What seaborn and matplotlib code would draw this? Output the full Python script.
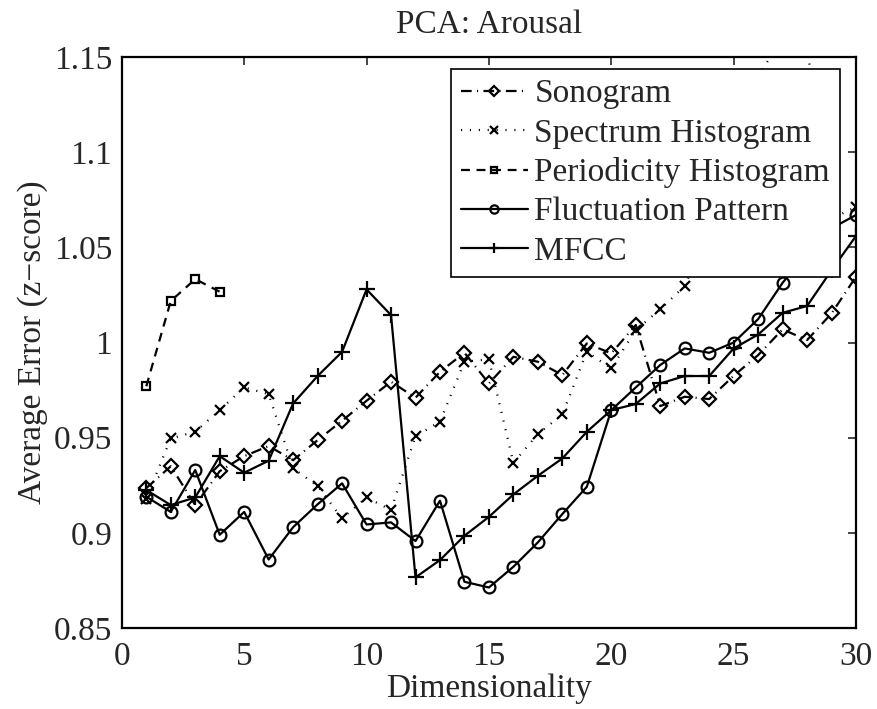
import numpy as np
import pandas as pd
import seaborn as sns
import matplotlib.pyplot as plt
from matplotlib.ticker import FuncFormatter

# values
dims = list(range(1, 31))
sonogram = [0.9235, 0.935, 0.9146, 0.9324, 0.9403, 0.9456, 0.9382, 0.9487, 0.9589, 0.9694,
            0.9794, 0.971, 0.9846, 0.9946, 0.9785, 0.9925, 0.9899, 0.9829, 0.9995, 0.9943,
            1.0092, 0.9666, 0.9715, 0.9703, 0.9825, 0.9934, 1.0069, 1.0013, 1.0153, 1.0346]
spectrum = [0.918, 0.9496, 0.9531, 0.9645, 0.9764, 0.9729, 0.9339, 0.9246, 0.9076, 0.9186,
            0.912, 0.9508, 0.9584, 0.9899, 0.9912, 0.9368, 0.9519, 0.9622, 0.9951, 0.9864,
            1.0066, 1.0174, 1.0297, 1.06, 1.10, 1.14, 1.16, 1.155, 1.065, 1.0713]
periodicity_dims = [1, 2, 3, 4]
periodicity = [0.977, 1.0218, 1.0333, 1.0267]
fluctuation = [0.919, 0.911, 0.933, 0.899, 0.911, 0.886, 0.903, 0.915, 0.926, 0.9044,
               0.9055, 0.8957, 0.9169, 0.8743, 0.8713, 0.8822, 0.895, 0.9099, 0.9242, 0.9645,
               0.9764, 0.9882, 0.9969, 0.9946, 1.0, 1.0123, 1.0314, 1.047, 1.06, 1.067]
mfcc = [0.9225, 0.9146, 0.9186, 0.9403, 0.9316, 0.9379, 0.968, 0.9824, 0.9951, 1.0279,
        1.0144, 0.8766, 0.8857, 0.8985, 0.9084, 0.9202, 0.93, 0.9391, 0.9531, 0.9645,
        0.9677, 0.9785, 0.9824, 0.9824, 0.9969, 1.0042, 1.0156, 1.0192, 1.038, 1.056]

x_ticks = [0, 5, 10, 15, 20, 25, 30]
y_ticks = [0.85, 0.9, 0.95, 1.0, 1.05, 1.1, 1.15]

sns.set_style("white")
plt.rcParams["font.family"] = ["Liberation Serif", "DejaVu Serif"]

fig = plt.figure(figsize=(8.77, 7.09), dpi=100)
ax = fig.add_axes([0.1389, 0.1142, 0.8372, 0.8054])

common = dict(color="k", lw=1.6, markeredgecolor="k", markeredgewidth=1.6, ax=ax)

sns.lineplot(x=dims, y=sonogram, marker="D", markersize=6.8, markerfacecolor="none",
             linestyle=(0, (4.8, 2.4, 0.5, 2.4)), label="Sonogram", **common)
sns.lineplot(x=dims, y=spectrum, marker="x", markersize=7.5,
             linestyle=(0, (0.5, 3.5)), label="Spectrum Histogram", **common)
sns.lineplot(x=periodicity_dims, y=periodicity, marker="s", markersize=6, markerfacecolor="none",
             linestyle=(0, (4, 3)), label="Periodicity Histogram", **common)
sns.lineplot(x=dims, y=fluctuation, marker="o", markersize=8.5, markerfacecolor="none",
             linestyle="-", label="Fluctuation Pattern", **common)
sns.lineplot(x=dims, y=mfcc, marker="+", markersize=11,
             linestyle="-", label="MFCC", **common)

ax.set_xlim(0, 30)
ax.set_ylim(0.85, 1.15)
ax.set_xticks(x_ticks)
ax.set_yticks(y_ticks)
ax.yaxis.set_major_formatter(FuncFormatter(lambda v, _: f"{v:g}"))
ax.tick_params(direction="in", length=6, width=1.2, top=True, right=True,
               labelsize=24)
ax.tick_params(axis="x", pad=10)
ax.tick_params(axis="y", pad=7)
for s in ax.spines.values():
    s.set_linewidth(1.6)
    s.set_color("k")

ax.set_title("PCA: Arousal", fontsize=24, pad=17)
ax.set_xlabel("Dimensionality", fontsize=24, labelpad=1)
ax.set_ylabel("Average Error (z\u2212score)", fontsize=24, labelpad=4)

leg = ax.legend(loc="upper right", bbox_to_anchor=(0.978, 0.979), fontsize=24,
                frameon=True, fancybox=False, framealpha=1, edgecolor="k",
                handlelength=2.0, handletextpad=0.2, labelspacing=0.26,
                borderpad=0.3, borderaxespad=0, markerscale=0.7)
leg.get_frame().set_linewidth(1.2)

fig.savefig("out.png", dpi=100)
